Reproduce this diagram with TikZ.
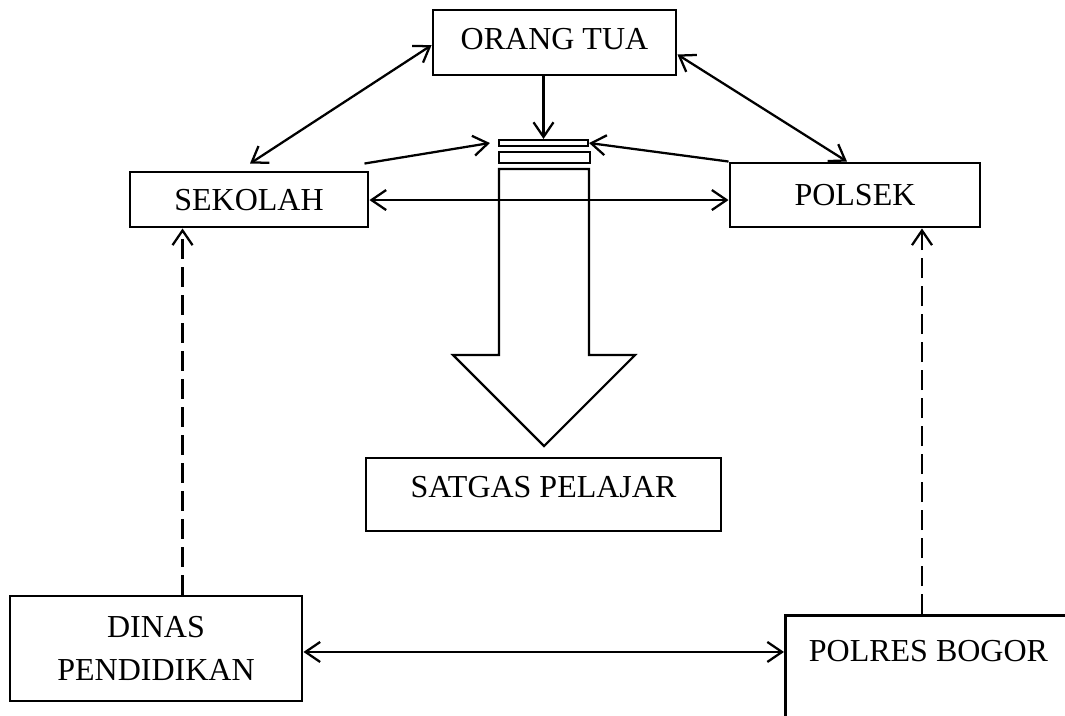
\documentclass[tikz,border=0pt]{standalone}
\usepackage{fontspec}
\setmainfont{Liberation Serif}
\usetikzlibrary{arrows.meta,calc}
\begin{document}
\begin{tikzpicture}[x=0.75pt,y=-0.75pt,
  box/.style={draw,line width=2.2pt,rectangle,inner sep=0pt,align=center,
    font=\fontsize{24}{32}\selectfont},
  capline/.style={text height=15.9pt},
  conn/.style={line width=1.7pt},
  tip/.style={-{Straight Barb[length=11pt,width=15pt,line width=1.7pt]}},
  tips/.style={{Straight Barb[length=11pt,width=15pt,line width=1.7pt]}-{Straight Barb[length=11pt,width=15pt,line width=1.7pt]}},
  dashline/.style={line width=1.7pt,dash pattern=on 15pt off 6pt},
  shape line/.style={line width=1.6pt,line join=miter}]
\clip (0,0) rectangle (1065,715);
\fill[white] (0,0) rectangle (1065,715);

% nodes
\node[box,capline,minimum width=182.25pt,minimum height=48.75pt,text depth=5.5pt] (orang) at (554.5,42.5) {ORANG TUA};
\node[box,capline,minimum width=178.5pt,minimum height=41.25pt,text depth=0pt] (sek) at (249,199.5) {SEKOLAH};
\node[box,capline,minimum width=187.5pt,minimum height=48pt,text depth=0pt] (polsek) at (855,195) {POLSEK};
\node[box,capline,minimum width=266.25pt,minimum height=54.75pt,text depth=11.5pt] (satgas) at (543.5,494.5) {SATGAS PELAJAR};
\node[box,minimum width=219pt,minimum height=78.75pt] (dinas) at (156,648.5) {DINAS\\PENDIDIKAN};
\node[box,capline,anchor=north west,minimum width=214.5pt,minimum height=94.5pt,text depth=40.7pt] (polres) at (784,614) {POLRES BOGOR};

% stacked bars and big arrow
\node[draw,shape line,rectangle,inner sep=0pt,minimum width=66.75pt,minimum height=4.5pt] (bar) at (543.5,143) {};
\node[draw,shape line,rectangle,inner sep=0pt,minimum width=68.25pt,minimum height=8.25pt] (bar2) at (544.5,157.5) {};
\draw[shape line] (499,169) -- (589,169) -- (589,355) -- (635,355) -- (544,446) -- (453,355) -- (499,355) -- cycle;

% connectors
\draw[conn,tip] (bar.north |- orang.south) -- (bar.north);
\draw[conn,tip] ([shift={(-5,-7)}]sek.north east) -- ([xshift=-6pt]bar.west);
\draw[conn,tip] (polsek.north west) -- (bar.east);
\draw[conn,tips] ([yshift=-2pt]orang.west) -- ([shift={(1,-7)}]sek.north);
\draw[conn,tips] ([yshift=-9pt]orang.east) -- ([shift={(-8,0)}]polsek.north);
\draw[conn,tips] ([yshift=-0.4pt]sek.east) -- ([yshift=-0.4pt]sek.east -| polsek.west);
\draw[conn,tips] ([yshift=-2.6pt]dinas.east) -- ([yshift=-2.6pt]dinas.east -| polres.west);
\coordinate (d1) at ($(dinas.north west)+(174,0)$);
\draw[dashline,tip] (d1) -- (d1 |- sek.south);
\coordinate (p1) at ($(polres.north west)+(138,0)$);
\draw[dashline,tip] (p1) -- (p1 |- polsek.south);
\end{tikzpicture}
\end{document}
